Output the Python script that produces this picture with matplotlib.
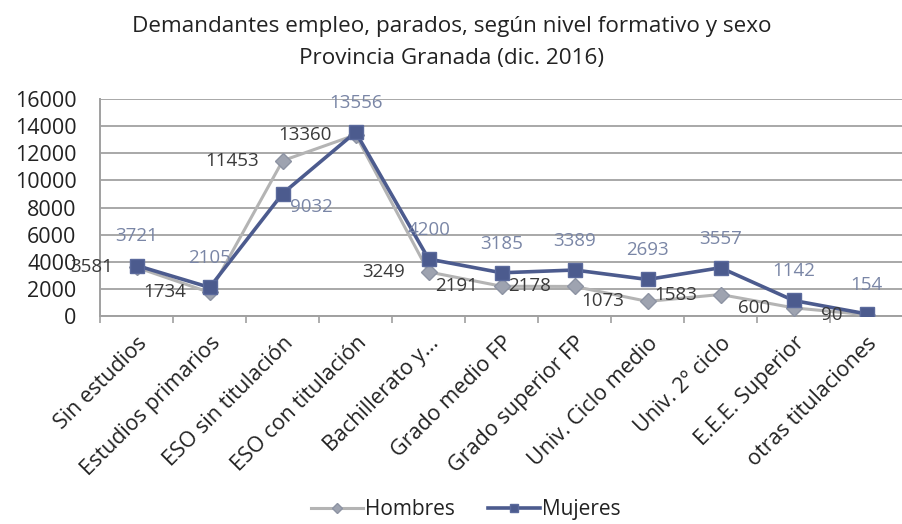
import matplotlib
matplotlib.use("Agg")
import matplotlib.pyplot as plt
import numpy as np

categories = ["Sin estudios", "Estudios primarios", "ESO sin titulación", "ESO con titulación",
              "Bachillerato y...", "Grado medio FP", "Grado superior FP", "Univ. Ciclo medio",
              "Univ. 2º ciclo", "E.E.E. Superior", "otras titulaciones"]
hombres = [3581, 1734, 11453, 13360, 3249, 2191, 2178, 1073, 1583, 600, 90]
mujeres = [3721, 2105, 9032, 13556, 4200, 3185, 3389, 2693, 3557, 1142, 154]
yticks = [0, 2000, 4000, 6000, 8000, 10000, 12000, 14000, 16000]

plt.rcParams['font.family'] = ['Open Sans', 'DejaVu Sans']

fig = plt.figure(figsize=(9.03, 5.24), dpi=100)
ax = fig.add_axes([0.111, 0.397, 0.889, 0.414])

x = np.arange(len(categories))
c_h_line = "#b4b4b4"
c_h_mark = "#9ea3b0"
c_m = "#4c5b8e"

ax.plot(x, hombres, color=c_h_line, lw=2.2, marker="D", ms=8, mfc=c_h_mark, mec="#8d93a3", zorder=3,
        label="Hombres")
ax.plot(x, mujeres, color=c_m, lw=2.6, marker="s", ms=10, mfc=c_m, mec="#5b6a9c", zorder=4,
        label="Mujeres")

for xi, v in zip(x, hombres):
    ax.annotate(str(v), (xi, v), xytext=(-17, 0), textcoords="offset points",
                ha="right", va="center", fontsize=13.5, color="#3a3a3a", zorder=5)
for xi, v in zip(x, mujeres):
    if v == 9032:
        ax.annotate(str(v), (xi, v), xytext=(5, -10), textcoords="offset points",
                    ha="left", va="center", fontsize=13.5, color="#7a86a6", zorder=5)
    else:
        ax.annotate(str(v), (xi, v), xytext=(0, 21), textcoords="offset points",
                    ha="center", va="center", fontsize=13.5, color="#7a86a6", zorder=5)

ax.set_xlim(-0.5, len(categories) - 0.5)
ax.set_ylim(0, 16000)
ax.set_yticks(yticks)
ax.set_yticklabels([str(t) for t in yticks], fontsize=15.5, color="#222222")
ax.yaxis.grid(True, color="#a8a8a8", lw=1.4)
ax.set_axisbelow(True)
ax.tick_params(axis="y", length=0, pad=17)

ax.set_xticks(x)
ax.set_xticklabels(categories, rotation=45, ha="right", rotation_mode="anchor",
                   fontsize=15.5, color="#222222")
ax.tick_params(axis="x", which="major", length=0, pad=12)
ax.set_xticks(np.arange(-0.5, len(categories), 1), minor=True)
ax.tick_params(axis="x", which="minor", length=5, color="#a0a0a0", width=1.2)

for s in ["top", "right"]:
    ax.spines[s].set_visible(False)
ax.spines["left"].set_color("#a0a0a0")
ax.spines["left"].set_linewidth(1.4)
ax.spines["bottom"].set_color("#a0a0a0")
ax.spines["bottom"].set_linewidth(1.4)

fig.text(0.5, 0.949, "Demandantes empleo, parados, según nivel formativo y sexo",
         ha="center", va="center", fontsize=16.2, color="#222222")
fig.text(0.5, 0.889, "Provincia Granada (dic. 2016)",
         ha="center", va="center", fontsize=16.2, color="#222222")

leg = fig.legend(loc="center", bbox_to_anchor=(0.516, 0.027), ncol=2, frameon=False,
                 fontsize=15, handlelength=2.5, columnspacing=1.6, handletextpad=0.1,
                 labelcolor="#222222", markerscale=0.6)

fig.savefig("out.png", dpi=100)
